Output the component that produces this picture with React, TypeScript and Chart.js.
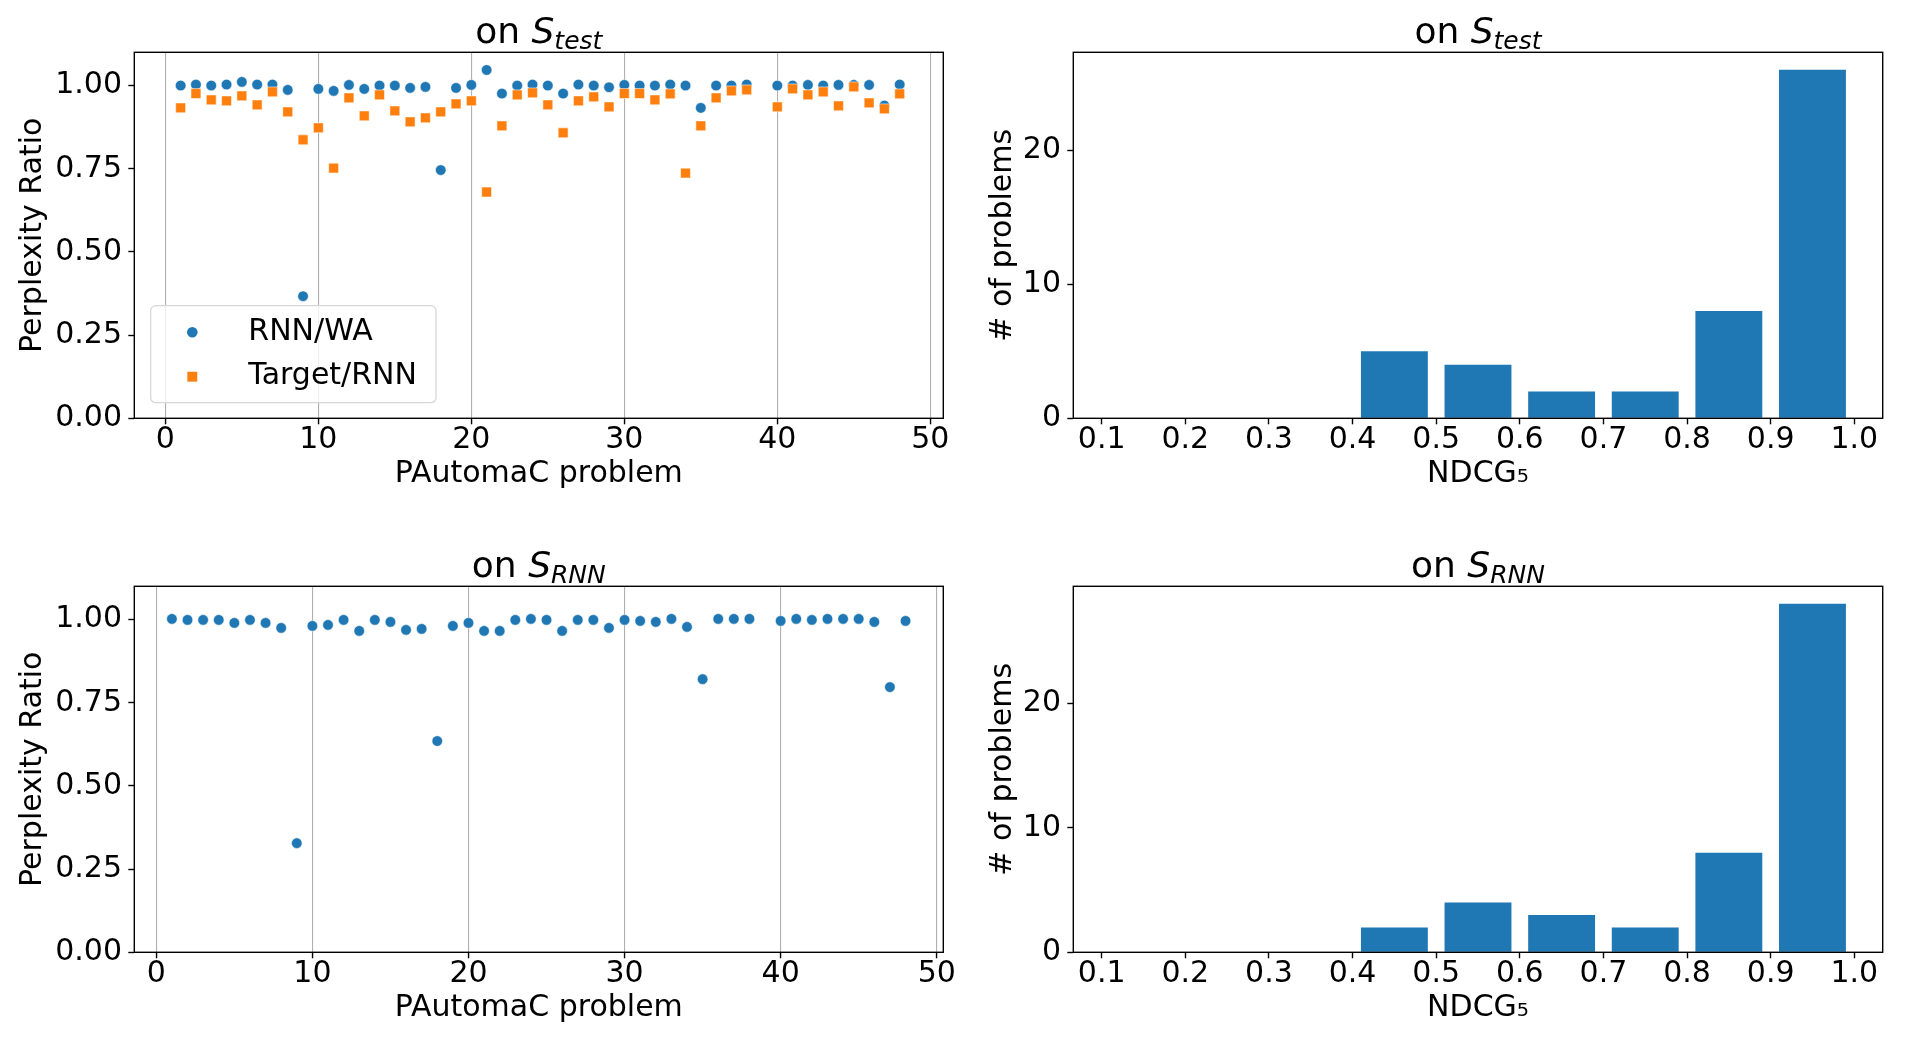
import { useEffect, useRef } from 'react';
import { Chart, registerables } from 'chart.js';

Chart.register(...registerables);
Chart.defaults.font.family = '"DejaVu Sans", sans-serif';
Chart.defaults.color = '#000';

// PAutomaC problem ids (39 has no result)
const problems = [
  1, 2, 3, 4, 5, 6, 7, 8, 9, 10, 11, 12, 13, 14, 15, 16, 17, 18, 19, 20,
  21, 22, 23, 24, 25, 26, 27, 28, 29, 30, 31, 32, 33, 34, 35, 36, 37, 38,
  40, 41, 42, 43, 44, 45, 46, 47, 48,
];

// perplexity ratios on S_test
const rnnWaTest = [
  1.0, 1.003, 1.0, 1.003, 1.011, 1.003, 1.003, 0.987, 0.367, 0.99, 0.984, 1.002, 0.99, 1.0, 1.0, 0.993,
  0.996, 0.746, 0.993, 1.002, 1.047, 0.976, 1.0, 1.003, 1.0, 0.976, 1.003, 1.0, 0.995, 1.002, 1.0, 1.0,
  1.003, 1.0, 0.933, 1.0, 1.0, 1.003, 1.0, 1.0, 1.002, 1.0, 1.002, 1.002, 1.002, 0.94, 1.003,
];
const targetRnnTest = [
  0.933, 0.976, 0.957, 0.954, 0.969, 0.942, 0.981, 0.921, 0.837, 0.873, 0.752, 0.963, 0.909, 0.972, 0.924, 0.891,
  0.903, 0.921, 0.945, 0.954, 0.68, 0.879, 0.972, 0.978, 0.942, 0.858, 0.954, 0.966, 0.936, 0.976, 0.976, 0.957,
  0.975, 0.737, 0.879, 0.963, 0.984, 0.987, 0.936, 0.99, 0.972, 0.981, 0.939, 0.996, 0.948, 0.93, 0.975,
];

// perplexity ratio on S_RNN
const rnnWaRnn = [
  1.002, 0.999, 0.999, 0.999, 0.99, 0.999, 0.99, 0.975, 0.328, 0.981, 0.984, 0.999, 0.966, 0.999, 0.993, 0.969,
  0.972, 0.635, 0.981, 0.99, 0.966, 0.966, 0.999, 1.002, 0.999, 0.966, 0.999, 0.999, 0.975, 0.999, 0.996, 0.993,
  1.002, 0.978, 0.821, 1.002, 1.002, 1.002, 0.996, 1.002, 0.999, 1.002, 1.002, 1.002, 0.993, 0.797, 0.996,
];

// NDCG5 histograms
const ndcgEdges = [0.1, 0.2, 0.3, 0.4, 0.5, 0.6, 0.7, 0.8, 0.9, 1.0];
const ndcgCountsTest = [0, 0, 0, 5, 4, 2, 2, 8, 26];
const ndcgCountsRnn = [0, 0, 0, 2, 4, 3, 2, 8, 28];

const ratioTicks = [0, 0.25, 0.5, 0.75, 1.0];
const problemTicks = [0, 10, 20, 30, 40, 50];
const countTicks = [0, 10, 20];

const BLUE = '#1f77b4';
const ORANGE = '#ff7f0e';
const W = 960;
const H = 523;

// spines + mathtext-like title + in-axes legend
const framePlugin = {
  id: 'frame',
  afterDatasetsDraw(chart: any) {
    const { ctx, chartArea: a } = chart;
    ctx.save();
    ctx.strokeStyle = '#000';
    ctx.lineWidth = 1.4;
    ctx.strokeRect(a.left, a.top, a.right - a.left, a.bottom - a.top);
    ctx.restore();
  },
  afterDraw(chart: any) {
    const { ctx, chartArea: a } = chart;
    const t = chart.options.plugins.frame?.title;
    if (t) {
      ctx.save();
      ctx.fillStyle = '#000';
      ctx.textBaseline = 'alphabetic';
      ctx.textAlign = 'left';
      ctx.font = '36px "DejaVu Sans"';
      const w1 = ctx.measureText(t.pre).width;
      ctx.font = 'italic 36px "DejaVu Sans"';
      const w2 = ctx.measureText(t.main).width;
      ctx.font = 'italic 25px "DejaVu Sans"';
      const w3 = ctx.measureText(t.sub).width;
      let x = (a.left + a.right) / 2 - (w1 + w2 + w3) / 2;
      const y = a.top - 9;
      ctx.font = '36px "DejaVu Sans"';
      ctx.fillText(t.pre, x, y);
      x += w1;
      ctx.font = 'italic 36px "DejaVu Sans"';
      ctx.fillText(t.main, x, y);
      x += w2;
      ctx.font = 'italic 25px "DejaVu Sans"';
      ctx.fillText(t.sub, x, y + 6);
      ctx.restore();
    }
    if (chart.options.plugins.frame?.legend) {
      const bx = a.left + 16.4;
      const by = a.bottom - 15.6 - 97;
      ctx.save();
      ctx.beginPath();
      ctx.roundRect(bx, by, 285.3, 97, 5);
      ctx.fillStyle = 'rgba(255,255,255,0.8)';
      ctx.fill();
      ctx.strokeStyle = '#d6d6d6';
      ctx.lineWidth = 1.2;
      ctx.stroke();
      chart.data.datasets.forEach((ds: any, i: number) => {
        const my = by + 26.6 + i * 44.4;
        const mx = bx + 41.6;
        ctx.fillStyle = ds.backgroundColor;
        ctx.beginPath();
        if (ds.pointStyle === 'rect') {
          const s = Math.SQRT1_2 * ds.pointRadius;
          ctx.rect(mx - s, my - s, 2 * s, 2 * s);
        } else {
          ctx.arc(mx, my, ds.pointRadius, 0, Math.PI * 2);
        }
        ctx.fill();
        ctx.fillStyle = '#000';
        ctx.font = '30px "DejaVu Sans"';
        ctx.textBaseline = 'alphabetic';
        ctx.textAlign = 'left';
        ctx.fillText(ds.label, bx + 97.6, my + 7.2);
      });
      ctx.restore();
    }
  },
};

type Area = { top: number; right: number; yWidth: number; xHeight: number; yTitlePad: number };

function setTicks(values: number[]) {
  return (scale: any) => {
    scale.ticks = values.map((v) => ({ value: v }));
  };
}

function baseScales(area: Area, xTitle: string, yTitle: string) {
  const tickFont = { size: 30, lineHeight: 1 };
  return {
    x: {
      type: 'linear',
      position: 'bottom',
      offset: false,
      afterFit: (s: any) => { s.height = area.xHeight; },
      border: { display: false },
      ticks: { font: tickFont, padding: 1, maxRotation: 0, includeBounds: false },
      title: {
        display: true, text: xTitle, font: { size: 30, lineHeight: 1.2 },
        padding: { top: 0, bottom: area.xHeight - 18 - 56.3 },
      },
    },
    y: {
      type: 'linear',
      position: 'left',
      afterFit: (s: any) => { s.width = area.yWidth; },
      border: { display: false },
      grid: { drawOnChartArea: false, tickLength: 6, tickWidth: 1.4, tickColor: '#000' },
      ticks: { font: tickFont, padding: 6.3, includeBounds: false },
      title: {
        display: true, text: yTitle, font: { size: 30, lineHeight: 1.2 },
        padding: { top: area.yTitlePad, bottom: 0 },
      },
    },
  };
}

function ratioConfig(series: { label: string; values: number[]; color: string; style: string; radius: number; order: number }[],
  xMin: number, xMax: number, area: Area, sub: string, legend: boolean): any {
  const scales: any = baseScales(area, 'PAutomaC problem', 'Perplexity Ratio');
  scales.x.min = xMin;
  scales.x.max = xMax;
  scales.x.afterBuildTicks = setTicks(problemTicks);
  scales.x.grid = { color: '#b0b0b0', lineWidth: 1.1, tickLength: 6, tickWidth: 1.4, tickColor: '#000' };
  scales.y.min = 0;
  scales.y.max = 1.1;
  scales.y.afterBuildTicks = setTicks(ratioTicks);
  scales.y.ticks.callback = (v: number) => v.toFixed(2);
  return {
    type: 'scatter',
    data: {
      datasets: series.map((s) => ({
        label: s.label,
        data: problems.map((p, i) => ({ x: p, y: s.values[i] })),
        backgroundColor: s.color,
        pointBackgroundColor: s.color,
        pointBorderColor: 'rgba(255,255,255,0.9)',
        pointBorderWidth: 0.6,
        pointStyle: s.style,
        pointRadius: s.radius,
        order: s.order,
      })),
    },
    options: {
      responsive: false,
      animation: false,
      events: [],
      layout: { padding: { top: area.top, right: area.right, left: 0, bottom: 0 } },
      scales,
      plugins: {
        legend: { display: false },
        tooltip: { enabled: false },
        frame: { title: { pre: 'on ', main: 'S', sub }, legend },
      },
    },
    plugins: [framePlugin],
  };
}

function histConfig(counts: number[], yMax: number, area: Area, sub: string): any {
  const scales: any = baseScales(area, 'NDCG\u2085', '# of problems');
  scales.x.min = 0.066;
  scales.x.max = 1.034;
  scales.x.afterBuildTicks = setTicks(ndcgEdges);
  scales.x.ticks.callback = (v: number) => v.toFixed(1);
  scales.x.grid = { offset: false, drawOnChartArea: false, tickLength: 6, tickWidth: 1.4, tickColor: '#000' };
  scales.y.min = 0;
  scales.y.max = yMax;
  scales.y.afterBuildTicks = setTicks(countTicks);
  return {
    type: 'bar',
    data: {
      datasets: [{
        label: 'count',
        data: counts.map((c, i) => ({ x: (ndcgEdges[i] + ndcgEdges[i + 1]) / 2, y: c })),
        backgroundColor: BLUE,
        borderWidth: 0,
        barPercentage: 0.8,
        categoryPercentage: 1.0,
      }],
    },
    options: {
      responsive: false,
      animation: false,
      events: [],
      layout: { padding: { top: area.top, right: area.right, left: 0, bottom: 0 } },
      scales,
      plugins: {
        legend: { display: false },
        tooltip: { enabled: false },
        frame: { title: { pre: 'on ', main: 'S', sub }, legend: false },
      },
    },
    plugins: [framePlugin],
  };
}

function Panel({ left, top, makeConfig }: { left: number; top: number; makeConfig: () => any }) {
  const canvasRef = useRef<HTMLCanvasElement>(null);
  useEffect(() => {
    if (!canvasRef.current) return;
    const chart = new Chart(canvasRef.current, makeConfig());
    return () => chart.destroy();
  }, []);
  return (
    <canvas
      ref={canvasRef}
      width={W}
      height={H}
      style={{ position: 'absolute', left, top, width: W, height: H }}
    />
  );
}

const topLeftArea: Area = { top: 52.3, right: 16.7, yWidth: 134.3, xHeight: 104.7, yTitlePad: 14.9 };
const botLeftArea: Area = { top: 63.3, right: 16.7, yWidth: 134.3, xHeight: 93.7, yTitlePad: 14.9 };
const topRightArea: Area = { top: 52.3, right: 37.3, yWidth: 113.3, xHeight: 104.7, yTitlePad: 24.9 };
const botRightArea: Area = { top: 63.3, right: 37.3, yWidth: 113.3, xHeight: 93.7, yTitlePad: 24.9 };

export default function App() {
  return (
    <div style={{ position: 'absolute', left: 0, top: 0, width: 1920, height: 1046, background: '#fff' }}>
      <Panel
        left={0}
        top={0}
        makeConfig={() => ratioConfig([
          { label: 'RNN/WA', values: rnnWaTest, color: BLUE, style: 'circle', radius: 5.3, order: 1 },
          { label: 'Target/RNN', values: targetRnnTest, color: ORANGE, style: 'rect', radius: 7, order: 0 },
        ], -2.03, 50.85, topLeftArea, 'test', true)}
      />
      <Panel left={960} top={0} makeConfig={() => histConfig(ndcgCountsTest, 27.3, topRightArea, 'test')} />
      <Panel
        left={0}
        top={523}
        makeConfig={() => ratioConfig([
          { label: 'RNN/WA', values: rnnWaRnn, color: BLUE, style: 'circle', radius: 5.3, order: 0 },
        ], -1.41, 50.42, botLeftArea, 'RNN', false)}
      />
      <Panel left={960} top={523} makeConfig={() => histConfig(ndcgCountsRnn, 29.4, botRightArea, 'RNN')} />
    </div>
  );
}
